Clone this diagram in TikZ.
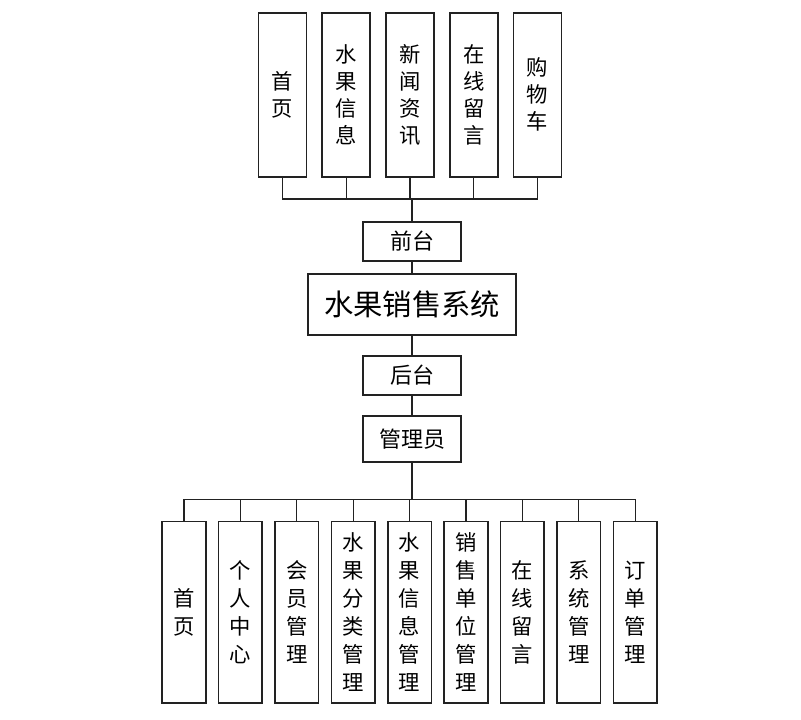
\documentclass[tikz,border=0pt]{standalone}
\usepackage{fontspec}
\setmainfont{Noto Sans CJK SC}
\usetikzlibrary{positioning, calc}
\definecolor{boxline}{HTML}{222222}

\tikzset{
  topbox/.style={draw=boxline, line width=1.2pt, fill=white, minimum width=36pt, minimum height=123pt, inner sep=0pt, align=center, font=\fontsize{16}{20.25}\selectfont},
  botbox/.style={draw=boxline, line width=1.2pt, fill=white, minimum width=32.6pt, minimum height=136pt, inner sep=0pt, align=center, font=\fontsize{16}{21}\selectfont},
  midbox/.style={draw=boxline, line width=1.2pt, fill=white, minimum width=73.5pt, minimum height=29.25pt, inner sep=0pt, align=center},
  link/.style={draw=boxline, line width=0.9pt},
  trunk/.style={draw=boxline, line width=1.8pt}
}

\begin{document}
\begin{tikzpicture}[x=0.75pt, y=-0.75pt, font=\fontsize{16.5}{20}\selectfont]
  \useasboundingbox (0,0) rectangle (801,719);
  % middle column
  \node[midbox, minimum width=156pt, minimum height=46pt, font=\fontsize{22}{26}\selectfont] (sys) at (412,304.5) {水果销售系统};
  \node[midbox, above=8.55pt of sys] (qian) {前台};
  \node[midbox, below=14.3pt of sys] (hou) {后台};
  \node[midbox, minimum height=34.5pt, below=14.55pt of hou] (admin) {管理员};
  % front-end modules
  \node[topbox, above=32.55pt of qian, xshift=-1.5pt] (t3) {新\\闻\\资\\讯};
  \node[topbox, left=10.6pt of t3] (t2) {水\\果\\信\\息};
  \node[topbox, left=10.6pt of t2] (t1) {首\\页};
  \node[topbox, right=10.6pt of t3] (t4) {在\\线\\留\\言};
  \node[topbox, right=10.6pt of t4] (t5) {购\\物\\车};
  % back-end modules
  \node[botbox, below=43.6pt of admin, xshift=-1.8pt] (b5) {水\\果\\信\\息\\管\\理};
  \node[botbox, left=8.5pt of b5] (b4) {水\\果\\分\\类\\管\\理};
  \node[botbox, left=8.5pt of b4] (b3) {会\\员\\管\\理};
  \node[botbox, left=8.5pt of b3] (b2) {个\\人\\中\\心};
  \node[botbox, left=8.5pt of b2] (b1) {首\\页};
  \node[botbox, right=8.5pt of b5] (b6) {销\\售\\单\\位\\管\\理};
  \node[botbox, right=8.5pt of b6] (b7) {在\\线\\留\\言};
  \node[botbox, right=8.5pt of b7] (b8) {系\\统\\管\\理};
  \node[botbox, right=8.5pt of b8] (b9) {订\\单\\管\\理};
  % connectors
  \coordinate[above=16.5pt of qian.north] (tbus);
  \coordinate[below=27.75pt of admin.south] (bbus);
  \foreach \b in {t1,t2,t3,t4,t5}
    \draw[link] (\b.south) |- (tbus);
  \foreach \b in {b1,b2,b3,b4,b5,b6,b7,b8,b9}
    \draw[link] (\b.north) |- (bbus);
  \draw[trunk] (qian.north) -- (tbus);
  \draw[trunk] (admin.south) -- (bbus);
  \draw[link] (qian.south) -- (sys.north);
  \draw[link] (sys.south) -- (hou.north);
  \draw[link] (hou.south) -- (admin.north);
\end{tikzpicture}
\end{document}
